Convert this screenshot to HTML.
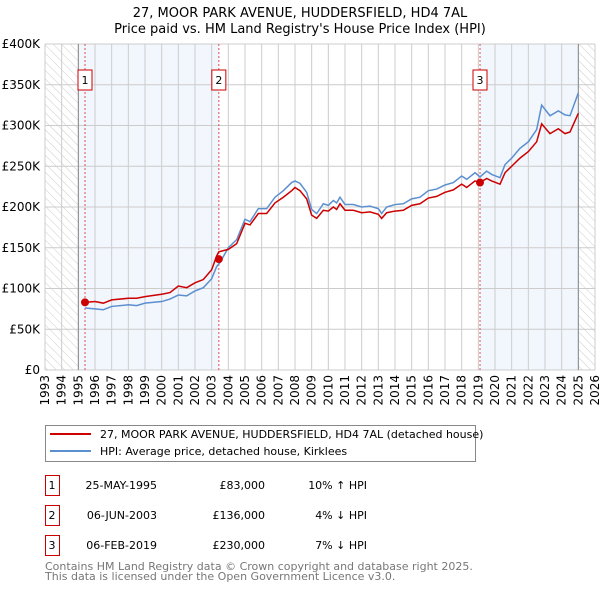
<!DOCTYPE html>
<html><head><meta charset="utf-8"><style>
body{margin:0;background:#fff;font-family:"DejaVu Sans","Liberation Sans",sans-serif;}
svg text{font-family:"DejaVu Sans","Liberation Sans",sans-serif;}
</style></head><body>
<svg id="chart" width="600" height="590" xmlns="http://www.w3.org/2000/svg">
<defs><pattern id="hatch" width="6" height="6" patternUnits="userSpaceOnUse" patternTransform="rotate(-45)"><line x1="0" y1="0" x2="0" y2="6" stroke="#ccc" stroke-width="1"/></pattern></defs>
<text x="300" y="17" text-anchor="middle" font-size="13">27, MOOR PARK AVENUE, HUDDERSFIELD, HD4 7AL</text>
<text x="300" y="33" text-anchor="middle" font-size="13">Price paid vs. HM Land Registry's House Price Index (HPI)</text>
<g id="plot"></g>
<g>
<rect x="45.5" y="425.5" width="430" height="36" fill="#fff" stroke="#888"/>
<line x1="50" y1="434" x2="91" y2="434" stroke="#cc0000" stroke-width="2"/>
<text x="100" y="438" font-size="11">27, MOOR PARK AVENUE, HUDDERSFIELD, HD4 7AL (detached house)</text>
<line x1="50" y1="451" x2="91" y2="451" stroke="#5b8fd0" stroke-width="2"/>
<text x="100" y="455" font-size="11">HPI: Average price, detached house, Kirklees</text>
</g>
<g id="table" font-size="11"></g>
<text x="45" y="570" font-size="11" fill="#777">Contains HM Land Registry data © Crown copyright and database right 2025.</text>
<text x="45" y="580" font-size="11" fill="#777">This data is licensed under the Open Government Licence v3.0.</text>
</svg>
<script>
const hpiYears=[1995.4,1996,1996.5,1997,1998,1998.5,1999,2000,2000.5,2001,2001.5,2002,2002.5,2003,2003.3,2003.5,2004,2004.5,2005,2005.3,2005.8,2006.3,2006.8,2007.3,2007.8,2008,2008.3,2008.7,2009,2009.3,2009.7,2010,2010.3,2010.5,2010.7,2011,2011.5,2012,2012.5,2013,2013.2,2013.5,2014,2014.5,2015,2015.5,2016,2016.5,2017,2017.5,2018,2018.3,2018.8,2019.1,2019.5,2019.8,2020.3,2020.6,2021,2021.5,2022,2022.5,2022.8,2023.3,2023.8,2024.2,2024.5,2025];
const hpiValues=[76,75,74,78,80,79,82,84,87,92,91,97,101,112,127,132,150,160,185,182,198,198,212,220,230,232,229,218,197,192,204,202,208,205,212,203,203,200,201,198,192,200,203,204,210,212,220,222,227,230,238,234,242,237,244,240,236,252,260,272,280,295,325,312,318,313,312,340];
const redYears=[1995.4,1996,1996.5,1997,1998,1998.5,1999,2000,2000.5,2001,2001.5,2002,2002.5,2003,2003.3,2003.43,2004,2004.5,2005,2005.3,2005.8,2006.3,2006.8,2007.3,2007.8,2008,2008.3,2008.7,2009,2009.3,2009.7,2010,2010.3,2010.5,2010.7,2011,2011.5,2012,2012.5,2013,2013.2,2013.5,2014,2014.5,2015,2015.5,2016,2016.5,2017,2017.5,2018,2018.3,2018.8,2019.1,2019.5,2019.8,2020.3,2020.6,2021,2021.5,2022,2022.5,2022.8,2023.3,2023.8,2024.2,2024.5,2025];
const redValues=[83,84,82,86,88,88,90,93,95,103,101,107,111,123,140,145,148,155,180,178,192,192,205,212,220,224,220,210,190,186,196,195,200,197,204,196,196,193,194,191,186,193,195,196,202,204,211,213,218,221,228,224,232,230,235,232,228,242,250,260,268,280,302,290,296,290,292,315];
const saleYears=[1995.4,2003.43,2019.1];
const salePrices=[83,136,230];
const saleLabels=["1","2","3"];
const saleDates=["25-MAY-1995","06-JUN-2003","06-FEB-2019"];
const salePriceText=["£83,000","£136,000","£230,000"];
const saleHpiText=["10% ↑ HPI","4% ↓ HPI","7% ↓ HPI"];
const yTicks=[0,50,100,150,200,250,300,350,400];
const yTickLabels=["£0","£50K","£100K","£150K","£200K","£250K","£300K","£350K","£400K"];
const xStart=1993,xEnd=2026;
const NS="http://www.w3.org/2000/svg";
const X0=45,X1=595,Y0=370,Y1=44;
const x=v=>X0+(v-xStart)*(X1-X0)/(xEnd-xStart);
const y=v=>Y0-v*(Y0-Y1)/400;
const plot=document.getElementById('plot');
function mk(t,a,p){const e=document.createElementNS(NS,t);for(const k in a)e.setAttribute(k,a[k]);(p||plot).appendChild(e);return e;}
let e;
e=mk('rect',{x:x(1995),y:Y1,width:x(saleYears[1])-x(1995),height:Y0-Y1,fill:'#f2f6fd'});


e=mk('rect',{x:x(saleYears[2]),y:Y1,width:x(2025)-x(saleYears[2]),height:Y0-Y1,fill:'#f2f6fd'});


e=mk('rect',{x:X0,y:Y1,width:x(1995)-X0,height:Y0-Y1,fill:'url(#hatch)'});


e=mk('rect',{x:x(2025),y:Y1,width:X1-x(2025),height:Y0-Y1,fill:'url(#hatch)'});


for(let yr=xStart;yr<=xEnd;yr++){
  e=mk('line',{x1:x(yr),x2:x(yr),y1:Y1,y2:Y0,stroke:'#ccc'});
  
  
  e=mk('text',{x:0,y:0,'font-size':12,'text-anchor':'end',transform:`translate(${x(yr)+4},375) rotate(-90)`});
  e.textContent=yr;
  
  
}
yTicks.forEach((t,i)=>{
  e=mk('line',{x1:X0,x2:X1,y1:y(t),y2:y(t),stroke:'#ccc'});
  
  
  e=mk('text',{x:40,y:y(t)+4,'font-size':12,'text-anchor':'end'});
  e.textContent=yTickLabels[i];
  
  
});
e=mk('line',{x1:x(1995),x2:x(1995),y1:Y1,y2:Y0,stroke:'#888'});


e=mk('line',{x1:x(2025),x2:x(2025),y1:Y1,y2:Y0,stroke:'#888'});


saleYears.forEach((s,i)=>{
  e=mk('line',{x1:x(s),x2:x(s),y1:Y1,y2:Y0,stroke:'#e05050','stroke-dasharray':'2,2'});
  
  
  const bx=x(s)-7;
  e=mk('rect',{x:bx,y:70,width:14,height:20,fill:'#fff',stroke:'#cc0000'});
  
  
  e=mk('text',{x:x(s),y:84,'font-size':11,'text-anchor':'middle'});
  e.textContent=saleLabels[i];
  
  
});
e=mk('polyline',{points:hpiYears.map((v,i)=>x(v)+','+y(hpiValues[i])).join(' '),fill:'none',stroke:'#5b8fd0','stroke-width':1.5});


e=mk('polyline',{points:redYears.map((v,i)=>x(v)+','+y(redValues[i])).join(' '),fill:'none',stroke:'#cc0000','stroke-width':1.5});


saleYears.forEach((s,i)=>{
  e=mk('circle',{cx:x(s),cy:y(salePrices[i]),r:4,fill:'#cc0000'});
  
  
});
const tb=document.getElementById('table');
saleYears.forEach((s,i)=>{
  const ry=475+i*30;
  e=mk('rect',{x:45.5,y:ry+0.5,width:14,height:20,fill:'#fff',stroke:'#cc0000'},tb);
  
  
  const cells=[[52,'middle',saleLabels[i]],[157,'end',saleDates[i]],[265,'end',salePriceText[i]],[367,'end',saleHpiText[i]]];
  cells.forEach(c=>{
    e=mk('text',{x:c[0],y:ry+14,'text-anchor':c[1]},tb);
    e.textContent=c[2];
    
    
  });
});
</script>
</body></html>
